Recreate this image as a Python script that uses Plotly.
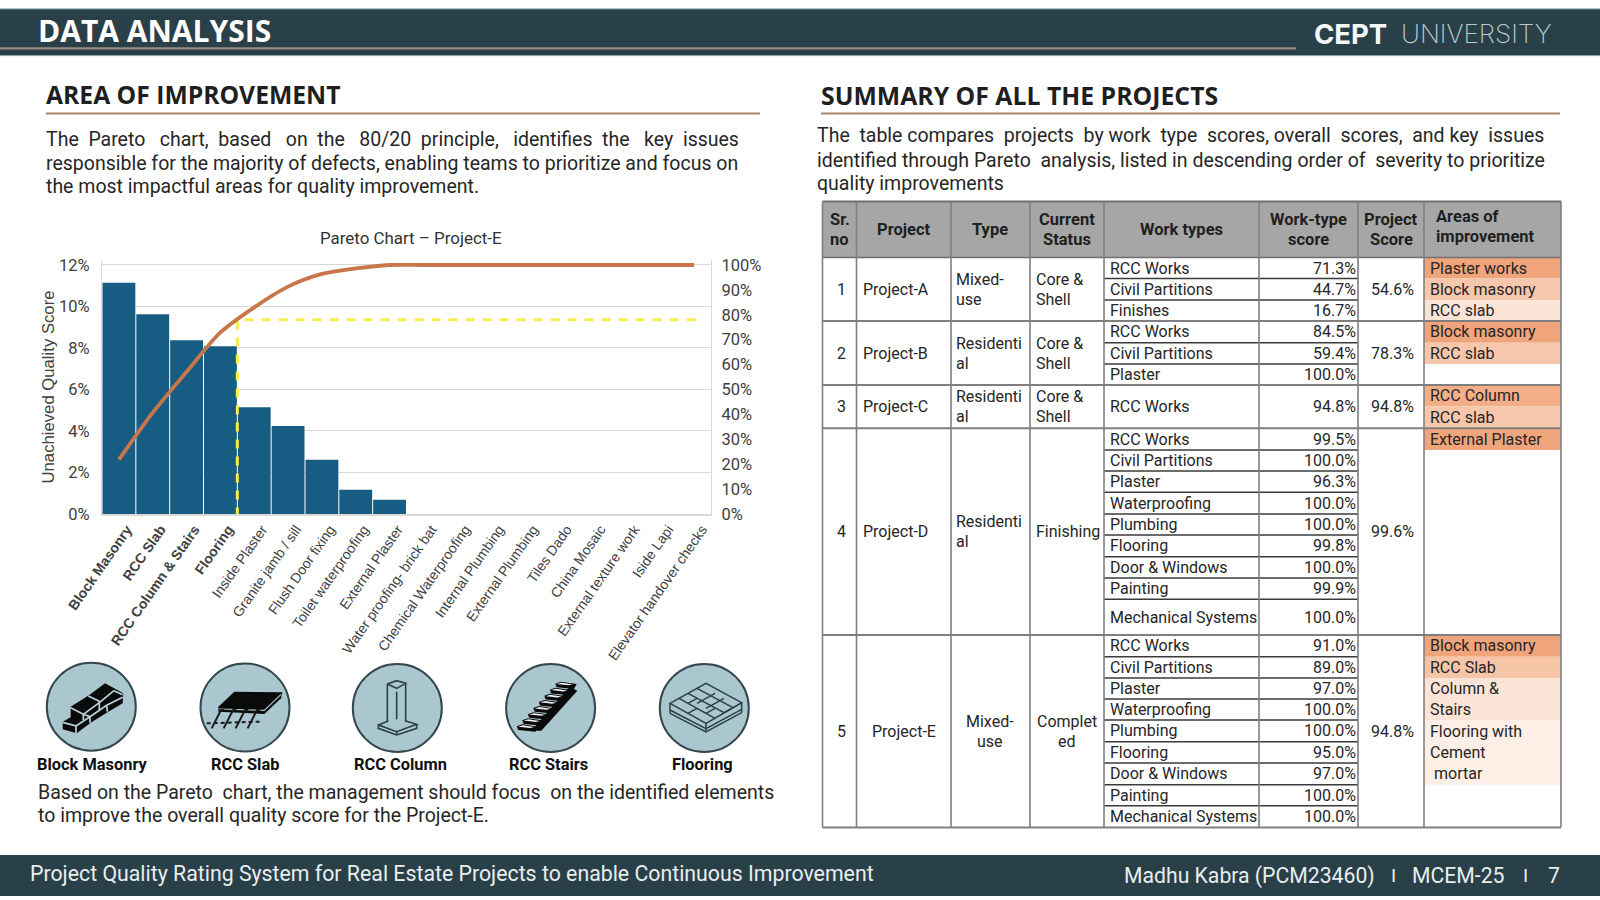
import plotly.graph_objects as go

# ---------- chart data ----------
categories = ["Block Masonry", "RCC Slab", "RCC Column & Stairs", "Flooring", "Inside Plaster",
              "Granite jamb / sill", "Flush Door fixing", "Toilet waterproofing", "External Plaster",
              "Water proofing- brick bat", "Chemical Waterproofing", "Internal Plumbing",
              "External Plumbing", "Tiles Dado", "China Mosaic", "External texture work",
              "Iside Lapi", "Elevator handover checks"]
unachieved = [11.14, 9.63, 8.37, 8.08, 5.14, 4.24, 2.61, 1.17, 0.69, 0, 0, 0, 0, 0, 0, 0, 0, 0]
cumulative = [21.8, 40.7, 57.1, 72.9, 83.0, 91.3, 96.4, 98.6, 100, 100, 100, 100, 100, 100, 100, 100, 100, 100]
highlighted = 4
threshold_x = [3.5, 3.5, 17.3]
threshold_y = [-1, 78, 78]
left_ticks = [0, 2, 4, 6, 8, 10, 12]
left_tick_labels = ["0%", "2%", "4%", "6%", "8%", "10%", "12%"]
right_ticks = [0, 10, 20, 30, 40, 50, 60, 70, 80, 90, 100]
right_tick_labels = ["0%", "10%", "20%", "30%", "40%", "50%", "60%", "70%", "80%", "90%", "100%"]

# ---------- table data ----------
table_headers = ["Sr.\nno", "Project", "Type", "Current\nStatus", "Work types", "Work-type\nscore", "Project\nScore"]
sr_no = ["1", "2", "3", "4", "5"]
projects = ["Project-A", "Project-B", "Project-C", "Project-D", "Project-E"]
types = ["Mixed-\nuse", "Residenti\nal", "Residenti\nal", "Residenti\nal", "Mixed-\nuse"]
status = ["Core &\nShell", "Core &\nShell", "Core &\nShell", "Finishing", "Complet\ned"]
project_score = ["54.6%", "78.3%", "94.8%", "99.6%", "94.8%"]
work_types = [["RCC Works", "Civil Partitions", "Finishes"],
              ["RCC Works", "Civil Partitions", "Plaster"],
              ["RCC Works"],
              ["RCC Works", "Civil Partitions", "Plaster", "Waterproofing", "Plumbing", "Flooring",
               "Door & Windows", "Painting", "Mechanical Systems"],
              ["RCC Works", "Civil Partitions", "Plaster", "Waterproofing", "Plumbing", "Flooring",
               "Door & Windows", "Painting", "Mechanical Systems"]]
work_scores = [["71.3%", "44.7%", "16.7%"],
               ["84.5%", "59.4%", "100.0%"],
               ["94.8%"],
               ["99.5%", "100.0%", "96.3%", "100.0%", "100.0%", "99.8%", "100.0%", "99.9%", "100.0%"],
               ["91.0%", "89.0%", "97.0%", "100.0%", "100.0%", "95.0%", "97.0%", "100.0%", "100.0%"]]
area_labels = ["Plaster works", "Block masonry", "RCC slab", "Block masonry", "RCC slab", "RCC Column",
               "RCC slab", "External Plaster", "Block masonry", "RCC Slab", "Column &\nStairs",
               "Flooring with\nCement\n mortar"]
icon_labels = ["Block Masonry", "RCC Slab", "RCC Column", "RCC Stairs", "Flooring"]

# ---------- layout (page pixels) ----------
W, H = 1600, 900
DARK = "#2A4048"
TAN = "#A8856A"
TXT = "#262626"
BODY_FONT = "Roboto"
COPY = 19.5
COL_X = [822.5, 856.5, 951, 1030, 1104, 1259, 1358, 1424, 1561]
HEAD_Y = [201.5, 257.5]
ROW_Y = [258, 278.5, 300, 321, 342.7, 364, 385, 428.3, 450, 471, 492.3, 514, 535, 556.7, 578, 599.3,
         635, 656.7, 678, 699, 720, 741.7, 763, 784.7, 805.7, 827.5]
AREA_Y = [(258, 278.5), (278.5, 300), (300, 321), (321, 342.7), (342.7, 364), (385, 406.5), (406.5, 428.3),
          (428.3, 450), (635, 656.7), (656.7, 678), (678, 720), (720, 784.7)]
AREA_FILL = ["#F0A47C", "#F7C7AC", "#FBE3D6", "#F0A47C", "#F7C7AC", "#F3AE88", "#F7C7AC", "#F0A47C",
             "#EFA47C", "#F6C4A6", "#FBE3D6", "#FDEEE6"]
ICON_C = [(91.3, 706.7), (245, 707.5), (397.3, 708), (550.6, 708), (704.3, 708)]
ICON_O = [(40, 660), (195, 660), (345, 660), (498, 660), (650, 660)]
ICON_LABEL_X = [92, 245, 400, 548, 702]


def X(p): return p / W
def Y(p): return 1 - p / H


shapes, annos = [], []


def rect(x0, y0, x1, y1, fill, line=None, lw=0):
    shapes.append(dict(type="rect", xref="paper", yref="paper", x0=X(x0), x1=X(x1), y0=Y(y0), y1=Y(y1),
                       fillcolor=fill, line=dict(color=line or fill, width=lw), layer="below"))


def seg(x0, y0, x1, y1, color, lw):
    shapes.append(dict(type="line", xref="paper", yref="paper", x0=X(x0), x1=X(x1), y0=Y(y0), y1=Y(y1),
                       line=dict(color=color, width=lw), layer="below"))


def path(pts, fill=None, line=None, lw=1.5, close=True, dash=None):
    d = "M" + " L".join(f"{X(a):.5f},{Y(b):.5f}" for a, b in pts) + (" Z" if close else "")
    shapes.append(dict(type="path", xref="paper", yref="paper", path=d, fillcolor=fill or "rgba(0,0,0,0)",
                       line=dict(color=line or "rgba(0,0,0,0)", width=lw if line else 0, dash=dash or "solid"),
                       layer="below"))


def txt(x, y, s, size=15, color=TXT, anchor="left", font=BODY_FONT, bold=False, weight=None):
    annos.append(dict(xref="paper", yref="paper", x=X(x), y=Y(y), text=f"<b>{s}</b>" if bold else s,
                      showarrow=False, xanchor=anchor, yanchor="middle", borderpad=0, borderwidth=0,
                      font=dict(size=size, color=color, family=font, **({"weight": weight} if weight else {}))))


def multiline(x, yc, s, gap=20, **kw):
    parts = s.split("\n")
    for i, p in enumerate(parts):
        txt(x, yc + (i - (len(parts) - 1) / 2) * gap, p.replace(" ", "\u00a0") if p.startswith(" ") else p, **kw)


def justify(line, extra):
    # widen a justified line of the original copy by spreading no-break spaces across its gaps
    words = line.split(" ")
    gaps = len(words) - 1
    out = words[0]
    given = 0
    for i in range(gaps):
        want = round((i + 1) * extra / gaps)
        out += " " + "\u00a0" * (want - given) + words[i + 1]
        given = want
    return out


# ---------- header / footer ----------
rect(0, 8.5, W, 56, DARK)
seg(0, 8.8, W, 8.8, "#B9D0D8", 1)
seg(0, 55.8, W, 55.8, "#B9D0D8", 1)
seg(0, 48.3, 1296, 48.3, "#9A8A80", 2.2)
txt(38, 30.5, "DATA ANALYSIS", size=30, color="#FFFFFF", font="Open Sans", bold=True)
txt(1314, 33.5, "CEPT", size=27.5, color="#F4F7F8", font="Inter", bold=True)
txt(1401, 33.5, "UNIVERSITY", size=26, color="#B9CBD0", font="Inter", weight=200)
rect(0, 855, W, 896, DARK)
txt(30, 873.5, "Project Quality Rating System for Real Estate Projects to enable Continuous Improvement",
    size=21.3, color="#E8EEF0", font="Roboto")
txt(1124, 875.5, "Madhu Kabra (PCM23460)", size=21.2, color="#E8EEF0")
txt(1393, 875.5, "I", size=19, color="#E8EEF0", anchor="center")
txt(1412, 875.5, "MCEM-25", size=21.2, color="#E8EEF0")
txt(1525, 875.5, "I", size=19, color="#E8EEF0", anchor="center")
txt(1554, 875.5, "7", size=21.2, color="#E8EEF0", anchor="center")

# ---------- section titles and copy ----------
txt(46, 95, "AREA OF IMPROVEMENT", size=24.7, color="#1F1F1F", font="Open Sans", bold=True)
txt(821, 95, "SUMMARY OF ALL THE PROJECTS", size=24.8, color="#1F1F1F", font="Open Sans", bold=True)
seg(46, 113.5, 760, 113.5, TAN, 2)
seg(821, 113.5, 1560, 113.5, TAN, 2)
for y, line, extra in [(139.8, "The Pareto chart, based on the 80/20 principle, identifies the key issues", 16),
                       (163, "responsible for the majority of defects, enabling teams to prioritize and focus on", 0),
                       (186.7, "the most impactful areas for quality improvement.", 0)]:
    txt(46, y, justify(line, extra), size=COPY)
for y, line, extra in [(135.7, "The table compares projects by work type scores, overall scores, and key issues", 8),
                       (160, "identified through Pareto analysis, listed in descending order of severity to prioritize", 2),
                       (183.7, "quality improvements", 0)]:
    txt(817, y, justify(line, extra), size=COPY)
for y, line, extra in [(792, "Based on the Pareto chart, the management should focus on the identified elements", 2),
                       (815, "to improve the overall quality score for the Project-E.", 0)]:
    txt(38, y, justify(line, extra), size=COPY)

# ---------- table ----------
rect(COL_X[0], HEAD_Y[0], COL_X[-1], HEAD_Y[1], "#A6A6A6")
for (y0, y1), f in zip(AREA_Y, AREA_FILL):
    rect(COL_X[7], y0, COL_X[8], y1, f)
GRID = "#7F7F7F"
HEAD_CX = [(COL_X[i] + COL_X[i + 1]) / 2 for i in range(7)]
CELL = 16
for i, h in enumerate(table_headers):
    multiline(HEAD_CX[i], 229.5, h, gap=20, size=16.5, anchor="center", bold=True, color="#1F1F1F")
multiline(1436, 227, "Areas of\nimprovement", gap=20, size=16.5, bold=True, color="#1F1F1F")

r = 0
for p in range(5):
    n = len(work_types[p])
    top, bot = ROW_Y[r], ROW_Y[r + n]
    yc = (top + bot) / 2
    centred = p == 4
    multiline(HEAD_CX[0] + 1.5, yc, sr_no[p], size=CELL, anchor="center")
    txt(HEAD_CX[1] if centred else 863, yc, projects[p], size=CELL, anchor="center" if centred else "left")
    multiline(HEAD_CX[2] if centred else 956, yc, types[p], size=CELL, anchor="center" if centred else "left")
    multiline(HEAD_CX[3] if centred else 1036, yc, status[p], size=CELL, anchor="center" if centred else "left")
    txt(HEAD_CX[6] + 1.5, yc, project_score[p], size=CELL, anchor="center")
    for k in range(n):
        ym = (ROW_Y[r + k] + ROW_Y[r + k + 1]) / 2
        txt(1110, ym, work_types[p][k], size=CELL)
        txt(1356, ym, work_scores[p][k], size=CELL, anchor="right")
        if k:
            seg(COL_X[4], ROW_Y[r + k], COL_X[6], ROW_Y[r + k], "#3A3A3A", 1.4)
    seg(COL_X[0], bot, COL_X[-1], bot, GRID, 2)
    r += n
seg(COL_X[0], HEAD_Y[0], COL_X[-1], HEAD_Y[0], "#6F6F6F", 2)
seg(COL_X[0], HEAD_Y[1], COL_X[-1], HEAD_Y[1], "#6F6F6F", 1.6)
for x in COL_X:
    seg(x, HEAD_Y[0], x, ROW_Y[-1], GRID, 1.6)
for (y0, y1), label in zip(AREA_Y, area_labels):
    multiline(1430, (y0 + y1) / 2, label, gap=21, size=CELL)

# ---------- icons ----------
CIRC = "#AAC7D0"
for (cx, cy), lab, lx in zip(ICON_C, icon_labels, ICON_LABEL_X):
    shapes.append(dict(type="circle", xref="paper", yref="paper", x0=X(cx - 44.5), x1=X(cx + 44.5),
                       y0=Y(cy - 44), y1=Y(cy + 44), fillcolor=CIRC, line=dict(color="#34474C", width=2), layer="below"))
    txt(lx, 764, lab, size=16.4, color="#111111", anchor="center", bold=True, font="Roboto")


def z(i, pts):
    ox, oy = ICON_O[i]
    return [(ox + a / 3, oy + b / 3) for a, b in pts]


# bricks
path(z(0, [(68, 185), (92, 172), (92, 140), (148, 105), (195, 70), (250, 100), (248, 130), (205, 155), (152, 188),
           (110, 220), (68, 208)]), fill="#0A0A0A")
for seam in [[(68, 187), (108, 198), (108, 220)], [(108, 198), (150, 170), (200, 136), (248, 112)],
             [(92, 143), (130, 163), (150, 170), (150, 188)], [(130, 163), (178, 128), (222, 92)],
             [(145, 108), (178, 124), (178, 150)], [(200, 136), (202, 155)], [(222, 92), (248, 104)],
             [(130, 163), (130, 180)]]:
    path(z(0, seam), line="#B9D2DA", lw=1.7, close=False)
# slab
path(z(1, [(70, 140), (118, 95), (262, 97), (258, 115), (208, 162), (70, 155)]), fill="#0A0A0A")
path(z(1, [(72, 147), (208, 151), (258, 103)]), line=CIRC, lw=1.2, close=False)
for dx in (0, 36, 72, 108):
    path(z(1, [(88 + dx, 150), (78 + dx, 150), (50 + dx, 205)]), line="#1B1B1B", lw=2, close=False)
path(z(1, [(35, 190), (195, 185)]), line="#1B1B1B", lw=2, close=False, dash="4px,3px")
# column
INK = "#2B3F45"
for pl in [[(127, 72), (127, 186)], [(182, 72), (182, 186)], [(127, 72), (155, 62), (182, 70), (155, 85), (127, 72)],
           [(155, 95), (155, 178)], [(100, 195), (130, 183)],
           [(182, 183), (215, 193), (155, 215), (100, 195), (100, 205), (155, 225), (215, 205), (215, 193)],
           [(155, 215), (155, 225)]]:
    path(z(2, pl), line=INK, lw=1.6, close=False)
# stairs
path(z(3, [(100, 212), (130, 212), (238, 92), (215, 80)]), fill="#0A0A0A")
for s in range(8):
    cx = 200 - s * 16.5
    cy = 72 + s * 18.3
    path(z(3, [(cx - 28, cy - 1), (cx - 12, cy - 7), (cx + 36, cy), (cx + 28, cy + 15), (cx - 24, cy + 10)]), fill="#0A0A0A")
    path(z(3, [(cx - 24, cy), (cx - 10, cy - 4), (cx + 24, cy + 1), (cx + 12, cy + 4)]), fill="#F2F2F2")
# flooring
path(z(4, [(60, 130), (168, 70), (275, 128), (168, 190)]), line=INK, lw=1.6)
for pl in [[(60, 150), (168, 206), (275, 148)], [(60, 160), (168, 216), (275, 158)], [(60, 130), (60, 160)],
           [(275, 128), (275, 158)], [(168, 190), (168, 216)],
           [(114, 100), (222, 158)], [(87, 115), (195, 175)], [(141, 85), (249, 143)],
           [(141, 115), (114, 130)], [(195, 100), (141, 130)], [(222, 115), (168, 145)],
           [(249, 143), (222, 158)], [(195, 145), (168, 160)], [(141, 145), (114, 160)]]:
    path(z(4, pl), line=INK, lw=1.5, close=False)

# ---------- pareto chart ----------
bar_text = [f"<b>{c}</b>" if i < highlighted else c for i, c in enumerate(categories)]
fig = go.Figure()
fig.add_trace(go.Bar(x=list(range(len(categories))), y=unachieved, marker=dict(color="#175C82", line=dict(width=0)),
                     width=0.97, xaxis="x", yaxis="y", showlegend=False))
fig.add_trace(go.Scatter(x=threshold_x, y=threshold_y, mode="lines",
                         line=dict(color="#F5EF4A", width=3, dash="9px,8px"), xaxis="x", yaxis="y2", showlegend=False))
fig.add_trace(go.Scatter(x=list(range(len(categories))), y=cumulative, mode="lines",
                         line=dict(color="#C9764A", width=3.8, shape="spline", smoothing=0.8), xaxis="x", yaxis="y2",
                         showlegend=False))
txt(411, 238, "Pareto Chart – Project-E", size=16.9, color="#333333", anchor="center", font="Roboto")
AX = "#D9D9D9"
TICKF = dict(family="Roboto", size=16.5, color="#404040")
# the value axes run 2% past their top tick so the 100% line is not clipped at the plot edge
PLOT_TOP = 260
fig.update_layout(
    width=W, height=H, margin=dict(l=0, r=0, t=0, b=0, autoexpand=False), paper_bgcolor="#FFFFFF", plot_bgcolor="#FFFFFF",
    font=dict(family=BODY_FONT), shapes=shapes, annotations=annos, showlegend=False,
    xaxis=dict(domain=[X(102), X(711)], range=[-0.5, 17.5], tickmode="array", tickvals=list(range(len(categories))),
               ticktext=bar_text, tickangle=-55, tickfont=dict(family="Liberation Sans", size=14, color="#404040"),
               showgrid=False, zeroline=False, showline=True, linecolor=AX, linewidth=1.5, ticks="",
               ticklabelshift=8, automargin=False, fixedrange=True),
    yaxis=dict(domain=[Y(514), Y(PLOT_TOP)], range=[0, 12.24], tickmode="array", tickvals=left_ticks,
               ticktext=left_tick_labels, tickfont=TICKF, gridcolor=AX, gridwidth=1.2, zeroline=False, showline=True,
               linecolor=AX, linewidth=1.2, ticks="outside", ticklen=8, tickcolor="rgba(0,0,0,0)", automargin=False,
               fixedrange=True,
               title=dict(text="Unachieved Quality Score", font=dict(family="Liberation Sans", size=16.7, color="#404040"),
                          standoff=0)),
    yaxis2=dict(domain=[Y(514), Y(PLOT_TOP)], range=[0, 102], overlaying="y", side="right", tickmode="array",
                tickvals=right_ticks, ticktext=right_tick_labels, tickfont=TICKF, showgrid=False, zeroline=False,
                showline=True, linecolor=AX, linewidth=1.2, ticks="outside", ticklen=6, tickcolor="rgba(0,0,0,0)",
                automargin=False, fixedrange=True),
)
fig.write_html("out.html", config={"displayModeBar": False}, post_script="document.body.style.margin='0';")
